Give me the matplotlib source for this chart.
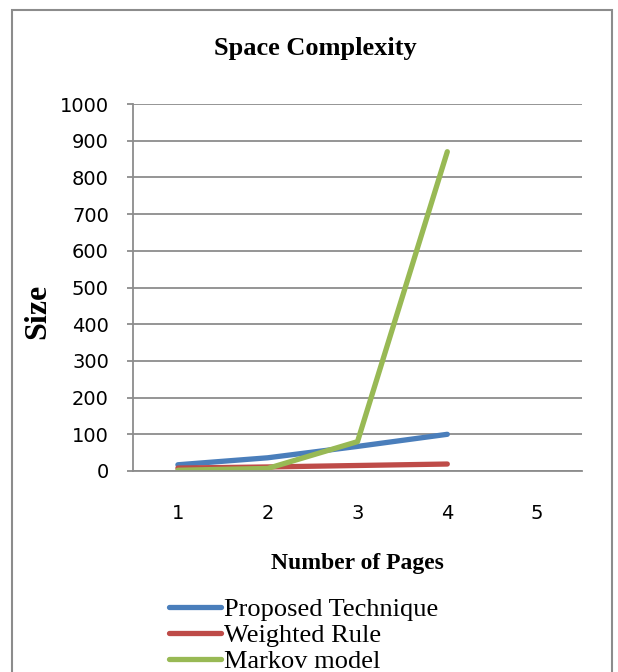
#!/usr/bin/env python3
import numpy as np
import matplotlib
matplotlib.use("Agg")
import matplotlib.pyplot as plt
from matplotlib.patches import Rectangle

pages = [1, 2, 3, 4]
page_ticks = [1, 2, 3, 4, 5]
proposed = [17, 36, 67, 100]
weighted = [8, 11, 15, 19]
markov = [2, 7, 80, 870]

series = [("Proposed Technique", proposed, "#4A7EBB"),
          ("Weighted Rule", weighted, "#BE4B48"),
          ("Markov model", markov, "#98B954")]

serif = "Liberation Serif"
sans = "DejaVu Sans"

fig = plt.figure(figsize=(6.18, 6.72), dpi=100)

# outer chart border (Excel style), runs off bottom
fig.patches.append(Rectangle((12 / 618, -0.1), 600 / 618, 1 - 10 / 672 + 0.1,
                             transform=fig.transFigure, fill=False,
                             edgecolor="#8c8c8c", linewidth=1.5))

ax = fig.add_axes([133 / 618, 1 - 471 / 672, 449 / 618, 367 / 672])

for name, vals, col in series:
    ax.plot(pages, vals, color=col, linewidth=3.8, label=name,
            solid_capstyle="round")

ax.set_xlim(0.5, 5.5)
ax.set_ylim(0, 1000)
ax.set_yticks(np.arange(0, 1001, 100))
ax.set_xticks(page_ticks)
ax.yaxis.grid(True, color="#8c8c8c", linewidth=1.3)
ax.set_axisbelow(True)
for s in ["top", "right"]:
    ax.spines[s].set_visible(False)
ax.spines["left"].set_color("#8c8c8c")
ax.spines["bottom"].set_color("#8c8c8c")
ax.spines["left"].set_linewidth(1.3)
ax.spines["bottom"].set_linewidth(1.3)
ax.tick_params(axis="y", length=4.3, width=1.3, color="#8c8c8c", pad=13,
               labelsize=14)
ax.tick_params(axis="x", length=0, pad=24, labelsize=14)
for lab in ax.get_xticklabels() + ax.get_yticklabels():
    lab.set_fontfamily(sans)

fig.text(315 / 618, 1 - 48 / 672, "Space Complexity", ha="center", va="center",
         fontsize=19, fontweight="bold", family=serif)
fig.text(38 / 618, 1 - 311 / 672, "Size", ha="center", va="center",
         rotation=90, fontsize=23, fontweight="bold", family=serif)
fig.text(357 / 618, 1 - 563 / 672, "Number of Pages", ha="center", va="center",
         fontsize=17, fontweight="bold", family=serif)

# legend runs off the bottom edge, as in the source chart
fig.legend(loc="upper left", bbox_to_anchor=(158 / 618, 1 - 587 / 672),
           frameon=False, prop={"family": serif, "size": 19},
           handlelength=2.0, handletextpad=0.1, labelspacing=0.1,
           borderaxespad=0)

plt.savefig("out.png", dpi=100)
